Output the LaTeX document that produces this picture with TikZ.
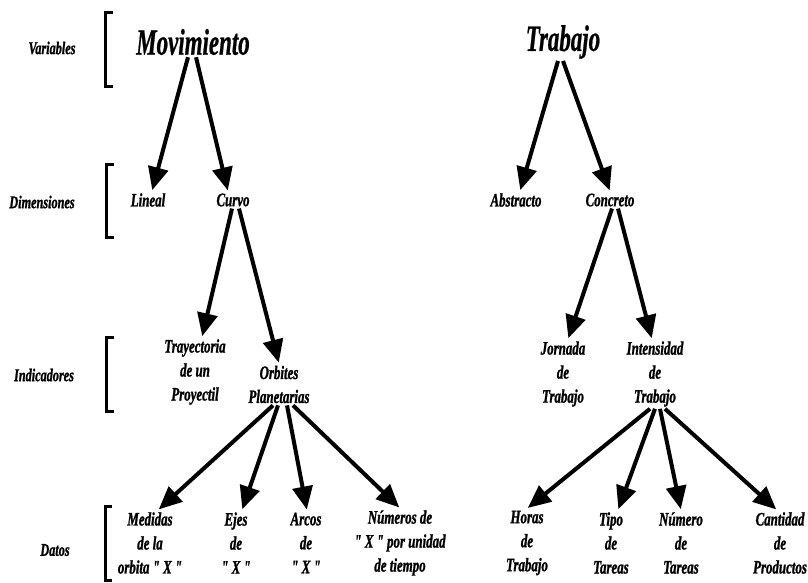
\documentclass[tikz,border=0pt]{standalone}
\usepackage{fontspec}
\newfontfamily\headfont{Liberation Serif}[FakeStretch=0.62,FakeBold=0.6]
\newfontfamily\itemfont{Liberation Serif}[FakeStretch=0.68,FakeBold=1.2]
\usetikzlibrary{arrows.meta}
\begin{document}
\begin{tikzpicture}[x=1pt,y=-1pt,
  head/.style={font=\headfont\bfseries\itshape\fontsize{37}{40}\selectfont, inner sep=2pt},
  item/.style={font=\itemfont\bfseries\itshape\fontsize{19}{24}\selectfont, align=center, inner sep=2pt},
  level/.style={font=\itemfont\bfseries\itshape\fontsize{18}{22}\selectfont, inner sep=0pt},
  brk/.style={line width=3pt},
  arr/.style={line width=4pt, -{Triangle[length=23pt,width=20pt]}, shorten >=1pt}
]
\useasboundingbox (0,0) rectangle (808,583);

% level labels and brackets
\node[level] (lvar) at (52,48)  {Variables};
\node[level] (ldim) at (42,202) {Dimensiones};
\node[level] (lind) at (44,375) {Indicadores};
\node[level] (ldat) at (55,550) {Datos};
\draw[brk] (113,13)  -- (105,13)  -- (105,87)  -- (113,87);
\draw[brk] (114,164) -- (106,164) -- (106,237) -- (114,237);
\draw[brk] (114,337) -- (106,337) -- (106,411) -- (114,411);
\draw[brk] (112,506) -- (105,506) -- (105,580) -- (112,580);

% variables
\node[head] (mov)  at (193,42) {Movimiento};
\node[head] (trab) at (563,42) {Trabajo};

% dimensions
\node[item] (lin) at (148,200) {Lineal};
\node[item] (cur) at (233,200) {Curvo};
\node[item] (abs) at (516,200) {Abstracto};
\node[item] (con) at (610,200) {Concreto};

% indicators
\node[item] (tray) at (195,372)   {Trayectoria\\de un\\Proyectil};
\node[item] (orb)  at (279,384.5) {Orbites\\Planetarias};
\node[item] (jor)  at (563,374)   {Jornada\\de\\Trabajo};
\node[item] (int)  at (655,374)   {Intensidad\\de\\Trabajo};

% data
\node[item] (med)  at (150,543) {Medidas\\de la\\orbita " X "};
\node[item] (ejes) at (236,543) {Ejes\\de\\" X "};
\node[item] (arc)  at (306,543) {Arcos\\de\\" X "};
\node[item] (num)  at (400,543) {Números de\\" X " por unidad\\de tiempo};
\node[item] (hor)  at (527,543) {Horas\\de\\Trabajo};
\node[item] (tipo) at (611,543) {Tipo\\de\\Tareas};
\node[item] (nume) at (681,543) {Número\\de\\Tareas};
\node[item] (can)  at (780,543) {Cantidad\\de\\Productos};

% connectors
\draw[arr] ([xshift=-5pt]mov.south)  -- ([xshift=4pt]lin.north);
\draw[arr] ([xshift=3pt]mov.south)   -- ([xshift=-5pt]cur.north);
\draw[arr] ([xshift=-5pt]trab.south) -- ([xshift=4pt]abs.north);
\draw[arr] ([xshift=0pt]trab.south)  -- (con.north);

\draw[arr] ([xshift=-1pt]cur.south) -- ([xshift=7pt]tray.north);
\draw[arr] ([xshift=6pt]cur.south)  -- (orb.north);
\draw[arr] ([xshift=2pt]con.south)  -- ([xshift=5pt]jor.north);
\draw[arr] ([xshift=8pt]con.south)  -- ([xshift=-3pt]int.north);

\draw[arr] ([xshift=-6pt]orb.south) -- ([xshift=8pt]med.north);
\draw[arr] ([xshift=-1pt]orb.south) -- ([xshift=6pt]ejes.north);
\draw[arr] ([xshift=8pt]orb.south)  -- ([xshift=1pt]arc.north);
\draw[arr] ([xshift=14pt]orb.south) -- (num.north);

\draw[arr] ([xshift=-5pt]int.south) -- (hor.north);
\draw[arr] ([xshift=0pt]int.south)  -- ([xshift=7pt]tipo.north);
\draw[arr] ([xshift=5pt]int.south)  -- (nume.north);
\draw[arr] ([xshift=10pt]int.south) -- ([xshift=-3pt]can.north);
\end{tikzpicture}
\end{document}
